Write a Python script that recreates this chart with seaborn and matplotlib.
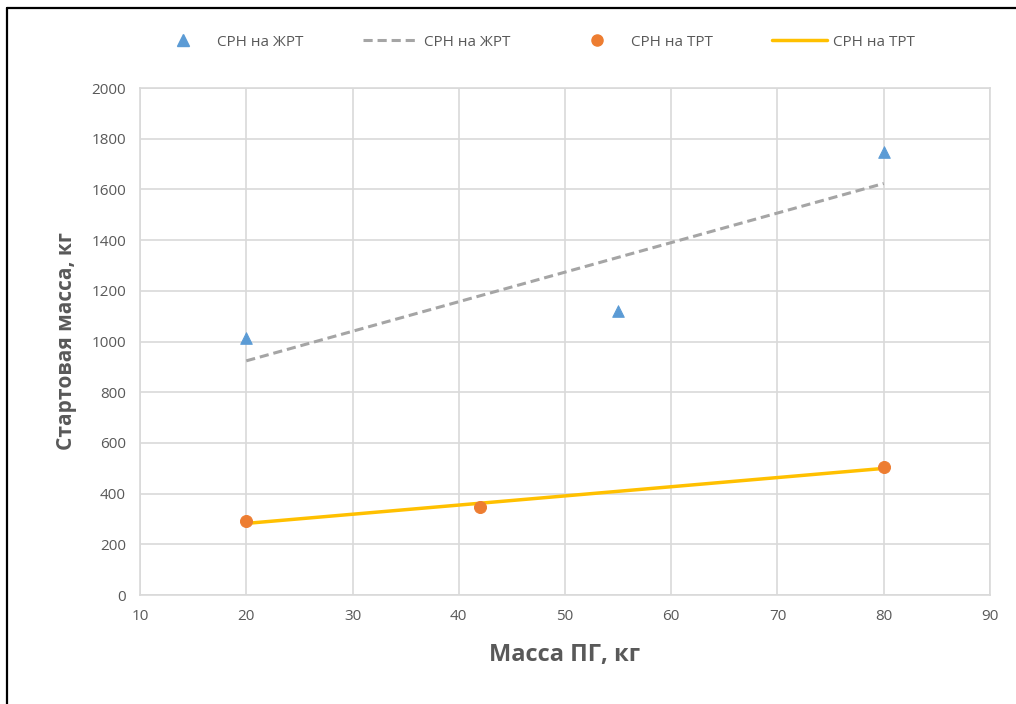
import matplotlib.pyplot as plt
import seaborn as sns
import pandas as pd
from matplotlib.lines import Line2D

# СРН на ЖРТ
lre_payload = [20, 55, 80]
lre_mass = [1012, 1120, 1747]
# СРН на ТРТ
srm_payload = [20, 42, 80]
srm_mass = [292, 347, 505]

x_ticks = [10, 20, 30, 40, 50, 60, 70, 80, 90]
y_ticks = [0, 200, 400, 600, 800, 1000, 1200, 1400, 1600, 1800, 2000]

lre = pd.DataFrame({"payload": lre_payload, "mass": lre_mass})
srm = pd.DataFrame({"payload": srm_payload, "mass": srm_mass})

sns.set_style("white")
plt.rcParams['font.family'] = ['Open Sans', 'DejaVu Sans']

blue = "#5B9BD5"
orange = "#ED7D31"
gray = "#A5A5A5"
gold = "#FFC000"
text_c = "#595959"

fig = plt.figure(figsize=(10.16, 7.04), dpi=100)
ax = fig.add_axes([0.1378, 0.1548, 0.8366, 0.7202])

sns.regplot(data=lre, x="payload", y="mass", ax=ax, scatter=False, ci=None, truncate=True,
            line_kws=dict(color=gray, lw=2.2, ls=(0, (3, 1.6))))
sns.regplot(data=srm, x="payload", y="mass", ax=ax, scatter=False, ci=None, truncate=True,
            line_kws=dict(color=gold, lw=2.5))
sns.scatterplot(data=lre, x="payload", y="mass", ax=ax, marker="^", s=70, color=blue,
                edgecolor=blue, zorder=5)
sns.scatterplot(data=srm, x="payload", y="mass", ax=ax, marker="o", s=75, color=orange,
                edgecolor=orange, zorder=5)

ax.set_xlim(10, 90)
ax.set_ylim(0, 2000)
ax.set_xticks(x_ticks)
ax.set_yticks(y_ticks)
ax.grid(True, color="#D9D9D9", lw=1.2)
ax.set_axisbelow(True)
for s in ax.spines.values():
    s.set_color("#D9D9D9")
    s.set_linewidth(1.2)
ax.tick_params(length=0, labelsize=11, labelcolor=text_c, pad=10)

ax.set_xlabel("Масса ПГ, кг", fontsize=17, fontweight="bold", color=text_c, labelpad=14)
ax.set_ylabel("Стартовая масса, кг", fontsize=15, fontweight="bold", color=text_c, labelpad=10)

handles = [
    Line2D([], [], marker="^", ls="", color=blue, markersize=8),
    Line2D([], [], color=gray, lw=2.2, ls=(0, (3, 1.6))),
    Line2D([], [], marker="o", ls="", color=orange, markersize=8),
    Line2D([], [], color=gold, lw=2.5),
]
labels = ["СРН на ЖРТ", "СРН на ЖРТ", "СРН на ТРТ", "СРН на ТРТ"]
fig.legend(handles, labels, loc="center", bbox_to_anchor=(0.527, 0.94), ncol=4, frameon=False,
           fontsize=11, labelcolor=text_c, columnspacing=3.9, handlelength=3.6, handletextpad=0.4)

# frame edges seen in the reference (top and left only)
fig.add_artist(Line2D([0.0069, 1.0], [0.9886, 0.9886], transform=fig.transFigure,
                      color="black", lw=1.6))
fig.add_artist(Line2D([0.0069, 0.0069], [0.0, 0.9886], transform=fig.transFigure,
                      color="black", lw=1.6))

fig.savefig("out.png", dpi=100)
